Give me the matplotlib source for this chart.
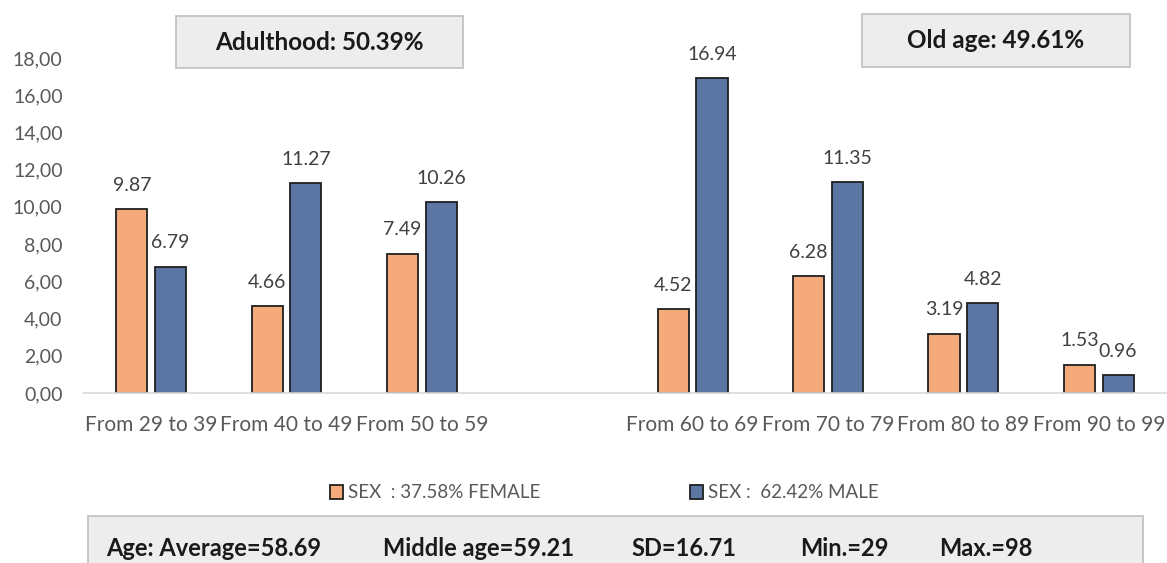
import numpy as np
import matplotlib
matplotlib.use("Agg")
import matplotlib.pyplot as plt
from matplotlib.patches import Rectangle

plt.rcParams['font.family'] = ['Lato', 'DejaVu Sans']

# age groups and share (%) of each sex
age_groups = ["From 29 to 39", "From 40 to 49", "From 50 to 59",
              "From 60 to 69", "From 70 to 79", "From 80 to 89", "From 90 to 99"]
female = [9.87, 4.66, 7.49, 4.52, 6.28, 3.19, 1.53]
male = [6.79, 11.27, 10.26, 16.94, 11.35, 4.82, 0.96]
y_ticks = [0, 2, 4, 6, 8, 10, 12, 14, 16, 18]

female_label = "SEX  : 37.58% FEMALE"
male_label = "SEX :  62.42% MALE"
adult_title = "Adulthood: 50.39%"
old_title = "Old age: 49.61%"
stats = ["Age: Average=58.69", "Middle age=59.21", "SD=16.71", "Min.=29", "Max.=98"]

orange = "#F4AA7B"
blue = "#5C76A4"
edge = "#1F1F1F"
grey_txt = "#595959"

fig = plt.figure(figsize=(11.67, 5.63), dpi=100)
ax = fig.add_axes([0.0715, 0.302, 0.928, 0.595])

# leave one empty slot between the adult and old-age groups
idx = np.arange(len(age_groups))
x = np.where(idx < 3, idx, idx + 1)
w = 0.23
off = 0.143

b1 = ax.bar(x - off, female, w, color=orange, edgecolor=edge, linewidth=1.3, label=female_label)
b2 = ax.bar(x + off, male, w, color=blue, edgecolor=edge, linewidth=1.3, label=male_label)

for bars, vals in ((b1, female), (b2, male)):
    for r, v in zip(bars, vals):
        ax.annotate(f"{v:.2f}", (r.get_x() + r.get_width() / 2, v),
                    xytext=(0, 17), textcoords="offset points",
                    ha="center", va="center", fontsize=14, color="#404040",
                    annotation_clip=False)

ax.set_xlim(-0.5, 7.5)
ax.set_ylim(0, 18)
ax.set_xticks(x)
ax.set_xticklabels(age_groups, fontsize=15, color=grey_txt)
ax.set_yticks(y_ticks)
ax.set_yticklabels([f"{t:.2f}".replace(".", ",") for t in y_ticks], fontsize=14, color=grey_txt)
ax.tick_params(axis="x", length=0, pad=16)
ax.tick_params(axis="y", length=0, pad=15)
for s in ("top", "right", "left"):
    ax.spines[s].set_visible(False)
ax.spines["bottom"].set_color("#D9D9D9")
ax.spines["bottom"].set_linewidth(1.2)

W, H = 1167, 563


def px_box(x0, y0, x1, y1):
    return Rectangle((x0 / W, 1 - y1 / H), (x1 - x0) / W, (y1 - y0) / H,
                     transform=fig.transFigure, facecolor="#EDEDED",
                     edgecolor="#BFBFBF", linewidth=1.2, clip_on=False)


# group title boxes
fig.patches.append(px_box(176, 16, 463, 68))
fig.text(319 / W, 1 - 42 / H, adult_title, ha="center", va="center",
         fontsize=17.5, fontweight="bold", color="#1A1A1A")
fig.patches.append(px_box(862, 14, 1130, 67))
fig.text(996 / W, 1 - 41 / H, old_title, ha="center", va="center",
         fontsize=17.5, fontweight="bold", color="#1A1A1A")

fig.legend(handles=[b1, b2], loc="center", bbox_to_anchor=(0.518, 1 - 493 / H),
           ncol=2, frameon=False, fontsize=13.5, labelcolor=grey_txt,
           handlelength=0.7, handleheight=0.7, handletextpad=0.25,
           columnspacing=8.0)

# summary statistics strip
fig.patches.append(px_box(88, 516, 1143, 575))
stat_x = [106, 383, 631, 800, 939]
for sx, st in zip(stat_x, stats):
    fig.text(sx / W, 1 - 548 / H, st, ha="left", va="center",
             fontsize=17, fontweight="bold", color="#1A1A1A")

fig.savefig("out.png", dpi=100)
